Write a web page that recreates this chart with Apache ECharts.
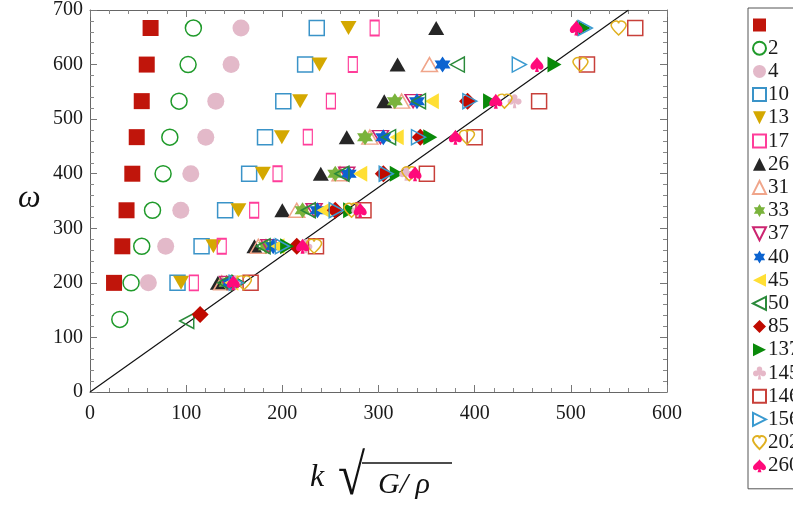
<!DOCTYPE html>
<html><head><meta charset="utf-8">
<script src="https://cdn.jsdelivr.net/npm/echarts@6/dist/echarts.min.js"></script>
<style>html,body{margin:0;padding:0;background:#fff}#c{width:793px;height:510px}</style>
</head><body><div id="c"></div>
<script>
// ---- data (x = k*sqrt(G/rho), y = omega) ----
const sNone = [[25,200],[33.6,267],[38,333],[44,400],[48.6,467],[53.8,533],[59,600],[63,667]];
const s2 = [[31,133],[42.7,200],[53.8,267],[65,333],[76,400],[83,467],[92.6,533],[102,600],[107.5,667]];
const s4 = [[60.7,200],[78.7,267],[94.4,333],[104.8,400],[120.4,467],[130.8,533],[146.7,600],[157,667]];
const s10 = [[91,200],[116,267],[140.5,333],[165.5,400],[182,467],[201,533],[223.7,600],[235.8,667]];
const s13 = [[94.7,200],[128.3,267],[154.3,333],[179.7,400],[199.5,467],[218.5,533],[238.6,600],[268.8,667]];
const s17 = [[108,200],[137,267],[170.7,333],[195,400],[226.5,467],[250.5,533],[273.3,600],[296,667]];
const s26 = [[133,200],[171,267],[200,333],[240,400],[267,467],[306,533],[319.8,600],[360,667]];
const s31 = [[137,200],[175,267],[215,333],[260,400],[291,467],[324,533],[353,600]];
const s33 = [[142,200],[183,267],[221,333],[255,400],[286,467],[317,533]];
const s37 = [[143,200],[186,267],[233,333],[267,400],[302,467],[336,533]];
const s40 = [[145,200],[190.5,267],[236.5,333],[269,400],[305,467],[340,533],[366.6,600]];
const s45 = [[147,200],[195,267],[243,333],[281,400],[319,467],[355.5,533]];
const s50 = [[100.6,130],[140,200],[180,267],[227,333],[262,400],[310.5,467],[341.6,533],[382,600]];
const s85 = [[114.5,142],[215,267],[255,333],[305,400],[343.4,467],[392.6,533]];
const s137 = [[155,200],[205,267],[270.5,333],[319,400],[353.8,467],[416,533],[483,600],[513.3,667]];
const s145 = [[150,200],[224,267],[279,333],[328.8,400],[441.5,533]];
const s146 = [[167,200],[235,267],[284.4,333],[350.3,400],[400,467],[467,533],[516.8,600],[567,667]];
const s156 = [[152,200],[200,267],[256,333],[308,400],[341.6,467],[395,533],[446.4,600],[515,667]];
const s202 = [[160,200],[233,267],[272,333],[332,400],[392,467],[431,533],[510,600],[549.7,667]];
const s260 = [[149,200],[221,267],[281,333],[338,400],[380,467],[422,533],[464.8,600],[505.7,667]];
const refLine = [[0,0],[560,700]];
const seriesNames = [' ','2','4','10','13','17','26','31','33','37','40','45','50','85','137','145','146','156','202','260'];
const xTicks = {min:0, max:600, interval:100};
const yTicks = {min:0, max:700, interval:100};

// ---- marker shapes ----
const STAR6 = 'path://M0,-10 L2.89,-5 L8.66,-5 L5.77,0 L8.66,5 L2.89,5 L0,10 L-2.89,5 L-8.66,5 L-5.77,0 L-8.66,-5 L-2.89,-5 Z';
const SPADE = 'path://M0,-10 C-3,-5 -10,-2 -10,3 C-10,7 -5,8 -1.5,5 L-3,10 L3,10 L1.5,5 C5,8 10,7 10,3 C10,-2 3,-5 0,-10 Z';
const HEART = 'path://M0,10 C-6,4 -10,0 -10,-4 C-10,-8 -6,-10 -3,-10 C-1,-10 0,-8 0,-6.5 C0,-8 1,-10 3,-10 C6,-10 10,-8 10,-4 C10,0 6,4 0,10 Z';
const CLUB = 'path://M0,-10 C2.8,-10 4.2,-8 4.2,-5.8 C4.2,-4.6 3.8,-3.8 3.2,-3.2 C3.8,-3.6 4.6,-3.8 5.6,-3.8 C8,-3.8 10,-2 10,0.6 C10,3.2 8,5 5.6,5 C3.6,5 2,3.8 1.2,2.2 L2.5,10 L-2.5,10 L-1.2,2.2 C-2,3.8 -3.6,5 -5.6,5 C-8,5 -10,3.2 -10,0.6 C-10,-2 -8,-3.8 -5.6,-3.8 C-4.6,-3.8 -3.8,-3.6 -3.2,-3.2 C-3.8,-3.8 -4.2,-4.6 -4.2,-5.8 C-4.2,-8 -2.8,-10 0,-10 Z';
const TRI_UP = 'path://M0,-10 L10,10 L-10,10 Z';
const TRI_DOWN = 'path://M0,10 L-10,-10 L10,-10 Z';
const TRI_LEFT = 'path://M-10,0 L10,-10 L10,10 Z';
const TRI_RIGHT = 'path://M10,0 L-10,10 L-10,-10 Z';

function filled(name, data, symbol, size, color){
  return {name, type:'scatter', data, symbol, symbolSize:size,
    itemStyle:{color:color, opacity:1}, emphasis:{disabled:true}};
}
function hollow(name, data, symbol, size, color, bw){
  return {name, type:'scatter', data, symbol, symbolSize:size,
    itemStyle:{color:'rgba(255,255,255,0)', borderColor:color, borderWidth:bw||1.5, opacity:1}, emphasis:{disabled:true}};
}

const series = [
  filled(seriesNames[0], sNone, 'rect', 16, '#c0150b'),
  hollow(seriesNames[1], s2, 'circle', 16, '#1f9a2a'),
  filled(seriesNames[2], s4, 'circle', 17, '#e3b9c9'),
  hollow(seriesNames[3], s10, 'rect', 15, '#3a93c8'),
  filled(seriesNames[4], s13, TRI_DOWN, [16,14], '#d4a800'),
  hollow(seriesNames[5], s17, 'rect', [9,15], '#ff3d9a'),
  filled(seriesNames[6], s26, TRI_UP, [16,14], '#262626'),
  hollow(seriesNames[7], s31, TRI_UP, [16,14], '#f0a58a'),
  filled(seriesNames[8], s33, STAR6, [16,16], '#7ab33c'),
  hollow(seriesNames[9], s37, TRI_DOWN, [16,13], '#cc2470'),
  filled(seriesNames[10], s40, STAR6, [16,16], '#0b63d0'),
  filled(seriesNames[11], s45, TRI_LEFT, [14,16], '#ffdf35'),
  hollow(seriesNames[12], s50, TRI_LEFT, [14,15], '#2a8a3a'),
  filled(seriesNames[13], s85, 'diamond', [17,17], '#c00a00'),
  filled(seriesNames[14], s137, TRI_RIGHT, [14,16], '#0a8a0a'),
  filled(seriesNames[15], s145, CLUB, [14,14], '#e6b8c8'),
  hollow(seriesNames[16], s146, 'rect', 15, '#c8403a'),
  hollow(seriesNames[17], s156, TRI_RIGHT, [14,15], '#3a9ad0'),
  hollow(seriesNames[18], s202, HEART, [15,14], '#e0b020'),
  filled(seriesNames[19], s260, SPADE, [13,15], '#ff0a7a'),
  {name:'line', type:'line', data:refLine, symbol:'none', silent:true, z:1,
   lineStyle:{color:'#111', width:1.2}, emphasis:{disabled:true}}
];

const serif = 'Liberation Serif, Times New Roman, serif';
function axisBase(extra){
  return Object.assign({
    type:'value', splitLine:{show:false},
    axisLine:{show:true, onZero:false, lineStyle:{color:'#666', width:1}},
    axisTick:{show:true, inside:true, length:7, lineStyle:{color:'#777'}},
    minorTick:{show:true, splitNumber:5, length:4, lineStyle:{color:'#888'}},
    axisLabel:{show:true, fontFamily:serif, fontSize:20, color:'#1a1a1a'}
  }, extra);
}

const chart = echarts.init(document.getElementById('c'), null, {renderer:'canvas'});
chart.setOption({
  animation:false,
  backgroundColor:'#fff',
  grid:{left:90, right:126, top:10, bottom:118, outerBoundsMode:'none'},
  xAxis:[
    axisBase(Object.assign({position:'bottom', axisLabel:{fontFamily:serif, fontSize:20, color:'#1a1a1a', margin:12}}, xTicks)),
    axisBase(Object.assign({position:'top', axisLabel:{show:false}}, xTicks))
  ],
  yAxis:[
    axisBase(Object.assign({position:'left', axisLabel:{fontFamily:serif, fontSize:20, color:'#1a1a1a', margin:7}}, yTicks)),
    axisBase(Object.assign({position:'right', axisLabel:{show:false}}, yTicks))
  ],
  legend:{
    data:seriesNames, orient:'vertical', left:748, top:8,
    itemWidth:13, itemHeight:13, itemGap:1.2,
    padding:[6,60,12,4], borderColor:'#555', borderWidth:1,
    textStyle:{fontFamily:serif, fontSize:21, color:'#1a1a1a', lineHeight:22, padding:[0,0,0,-3]},
    selectedMode:false
  },
  graphic:[
    {type:'text', left:18, top:183, style:{text:'ω', font:'italic 32px '+serif, fill:'#111'}},
    {type:'text', left:310, top:462, style:{text:'k', font:'italic 32px '+serif, fill:'#111'}},
    {type:'text', left:338, top:450, scaleX:0.85, style:{text:'√', font:'58px '+serif, fill:'#111'}},
    {type:'line', shape:{x1:362, y1:463, x2:452, y2:463}, style:{stroke:'#111', lineWidth:1.6}},
    {type:'text', left:378, top:470, style:{text:'G/ ρ', font:'italic 30px '+serif, fill:'#111'}}
  ],
  series:series
});
</script></body></html>
